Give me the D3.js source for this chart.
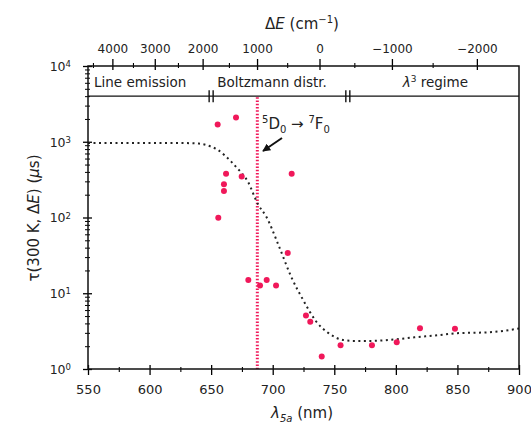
<!DOCTYPE html>
<html>
<head>
<meta charset="utf-8">
<script src="https://cdn.jsdelivr.net/npm/d3@7"></script>
<style>
  body { margin: 0; background: #fff; }
  text { font-family: "DejaVu Sans", sans-serif; fill: #222; }
</style>
</head>
<body>
<script>
// measured lifetimes (red dots)
const ptLambda = [655.3, 670.2, 662.1, 674.8, 660.4, 660.4, 655.8, 715.4, 712.2, 680.2, 689.7, 695.1, 702.7, 727.0, 730.5, 739.8, 755.1, 780.6, 800.7, 819.6, 848.0];
const ptTau = [1690, 2090, 379, 349, 274, 223, 99, 379, 34, 15, 12.7, 15, 12.7, 5.1, 4.2, 1.46, 2.06, 2.06, 2.26, 3.46, 3.39];

// model curve (black dotted)
const curveLambda = [550, 600, 630, 640, 650, 655, 661, 670, 680, 688, 695, 705, 715, 725, 735, 745, 757, 765, 780, 795, 815, 835, 850, 875, 900];
const curveTau = [965, 965, 960, 945, 860, 790, 662, 470, 294, 150, 101, 42, 16.5, 8.0, 4.3, 3.0, 2.42, 2.35, 2.35, 2.42, 2.62, 2.8, 2.97, 3.05, 3.42];

const xTicks = [550, 600, 650, 700, 750, 800, 850, 900];
const yTicks = [1, 10, 100, 1000, 10000];
const topTicks = [4000, 3000, 2000, 1000, 0, -1000, -2000];
const topLabels = ["4000", "3000", "2000", "1000", "0", "\u22121000", "\u22122000"];
const topMinor = [4500, 3500, 2500, 1500, 500, -500, -1500];
const lambda0 = 738; // nm where dE = 0
const lineLambda = 687.5; // 5D0 -> 7F0
const bandBreaks = [650, 761];
const bandLabels = ["Line emission", "Boltzmann distr.", "regime"];

let width, height, svg, xScale, yScale, toLambda;
width = 531;
height = 423;

svg = d3.select('body')
  .append('svg')
  .attr('width', width)
  .attr('height', height)
  .style('background-color', 'white');

xScale = d3.scaleLinear().domain([550, 900]).range([88, 519]);
yScale = d3.scaleLog().domain([1, 10000]).range([369, 66]);
toLambda = dE => 1e7 / (1e7 / lambda0 + dE);

const pLeft = xScale.range()[0], pRight = xScale.range()[1];
const pTop = yScale.range()[1], pBottom = yScale.range()[0];

// ---- bottom axis
const xAx = svg.append('g')
  .attr('transform', `translate(0,${pBottom})`)
  .call(d3.axisBottom(xScale).tickValues(xTicks).tickSizeInner(6).tickSizeOuter(0).tickPadding(10))
  .attr('font-family', 'DejaVu Sans').attr('font-size', 13);
xAx.selectAll('.tick line').attr('y1', -4).attr('stroke-width', 1.3);
xAx.select('.domain').remove();
const xMin = svg.append('g')
  .attr('transform', `translate(0,${pBottom})`)
  .call(d3.axisBottom(xScale).tickValues(d3.range(575, 900, 50)).tickSizeInner(3).tickSizeOuter(0).tickFormat(''));
xMin.selectAll('.tick line').attr('y1', -2).attr('stroke-width', 1.1);
xMin.select('.domain').remove();

// ---- top axis (energy gap)
const tAx = svg.append('g')
  .attr('transform', `translate(0,${pTop})`)
  .call(d3.axisTop(xScale).tickValues(topTicks.map(toLambda)).tickSizeInner(7).tickSizeOuter(0).tickPadding(6)
    .tickFormat((d, i) => topLabels[i]))
  .attr('font-family', 'DejaVu Sans').attr('font-size', 12);
tAx.selectAll('.tick line').attr('y1', 4).attr('stroke-width', 1.3);
tAx.select('.domain').remove();
const tMin = svg.append('g')
  .attr('transform', `translate(0,${pTop})`)
  .call(d3.axisTop(xScale).tickValues(topMinor.map(toLambda).filter(v => v >= 550 && v <= 900)).tickSizeInner(3).tickSizeOuter(0).tickFormat(''));
tMin.selectAll('.tick line').attr('y1', 2).attr('stroke-width', 1.1);
tMin.select('.domain').remove();

// ---- left axis (log)
const yAx = svg.append('g')
  .attr('transform', `translate(${pLeft},0)`)
  .call(d3.axisLeft(yScale).tickValues(yTicks).tickSizeInner(5).tickSizeOuter(0).tickPadding(12).tickFormat(''))
  .attr('font-family', 'DejaVu Sans').attr('font-size', 12.5);
yAx.selectAll('.tick line').attr('x1', 4).attr('stroke-width', 1.3);
yAx.select('.domain').remove();
yAx.selectAll('.tick text')
  .attr('dy', '0.35em')
  .each(function(d) {
    const t = d3.select(this);
    t.text('10');
    t.append('tspan').attr('dy', '-0.45em').attr('font-size', 8.5).text(Math.round(Math.log10(d)));
  });
let yMinorVals = [];
[1, 10, 100, 1000].forEach(p => d3.range(2, 10).forEach(m => yMinorVals.push(p * m)));
const yMin = svg.append('g')
  .attr('transform', `translate(${pLeft},0)`)
  .call(d3.axisLeft(yScale).tickValues(yMinorVals).tickSizeInner(3).tickSizeOuter(0).tickFormat(''));
yMin.selectAll('.tick line').attr('x1', 2).attr('stroke-width', 1);
yMin.select('.domain').remove();

// ---- axis titles
svg.append('text')
  .attr('x', 302).attr('y', 29)
  .attr('text-anchor', 'middle')
  .attr('font-size', 15)
  .html('\u0394<tspan font-style="italic">E</tspan> (cm<tspan dy="-6" font-size="10">\u22121</tspan><tspan dy="6">)</tspan>');

svg.append('text')
  .attr('x', 302).attr('y', 418)
  .attr('text-anchor', 'middle')
  .attr('font-size', 15)
  .html('<tspan font-style="italic">\u03bb</tspan><tspan dy="4" font-size="10" font-style="italic">5a</tspan><tspan dy="-4"> (nm)</tspan>');

svg.append('text')
  .attr('transform', 'translate(39,218) rotate(-90)')
  .attr('text-anchor', 'middle')
  .attr('font-size', 15)
  .html('\u03c4(300 K, \u0394<tspan font-style="italic">E</tspan>) (<tspan font-style="italic">\u03bc</tspan>s)');

// ---- regime band
const bandY = yScale(4000);
svg.append('line')
  .attr('x1', pLeft).attr('x2', pRight)
  .attr('y1', bandY).attr('y2', bandY)
  .attr('stroke', '#111').attr('stroke-width', 1.4);
bandBreaks.forEach(b => {
  [-2, 2].forEach(o => {
    svg.append('line')
      .attr('x1', xScale(b) + o).attr('x2', xScale(b) + o)
      .attr('y1', bandY - 6).attr('y2', bandY + 6)
      .attr('stroke', '#111').attr('stroke-width', 1.4);
  });
});
const labelY = bandY - 9;
svg.append('text').attr('x', pLeft + 6).attr('y', labelY)
  .attr('font-size', 13.5).text(bandLabels[0]);
svg.append('text').attr('x', xScale(bandBreaks[0]) + 6).attr('y', labelY)
  .attr('font-size', 13.5).text(bandLabels[1]);
svg.append('text').attr('x', (xScale(bandBreaks[1]) + pRight) / 2 + 2).attr('y', labelY)
  .attr('text-anchor', 'middle').attr('font-size', 13.5)
  .html('<tspan font-style="italic">\u03bb</tspan><tspan dy="-5" font-size="9">3</tspan><tspan dy="5"> ' + bandLabels[2] + '</tspan>');

// ---- 5D0 -> 7F0 line
svg.append('line')
  .attr('x1', xScale(lineLambda)).attr('x2', xScale(lineLambda))
  .attr('y1', bandY + 1).attr('y2', pBottom)
  .attr('stroke', '#f0185a').attr('stroke-width', 3)
  .attr('stroke-dasharray', '1.5,1.8');

// ---- model curve
const line = d3.line()
  .x((d, i) => xScale(curveLambda[i]))
  .y(d => yScale(d))
  .curve(d3.curveMonotoneX);
svg.append('path')
  .attr('d', line(curveTau))
  .attr('fill', 'none')
  .attr('stroke', '#222')
  .attr('stroke-width', 2)
  .attr('stroke-dasharray', '2,3.5');

// ---- data points
svg.selectAll('circle.dot')
  .data(ptTau)
  .enter()
  .append('circle')
  .attr('class', 'dot')
  .attr('cx', (d, i) => xScale(ptLambda[i]))
  .attr('cy', d => yScale(d))
  .attr('r', 3)
  .style('fill', '#f0185a');

// ---- annotation
svg.append('defs').append('marker')
  .attr('id', 'arr').attr('viewBox', '0 0 10 10')
  .attr('refX', 9).attr('refY', 5)
  .attr('markerWidth', 4).attr('markerHeight', 4)
  .attr('orient', 'auto')
  .append('path').attr('d', 'M0,0 L10,5 L0,10 z').attr('fill', '#111');
svg.append('line')
  .attr('x1', 282).attr('y1', 138).attr('x2', 263).attr('y2', 151)
  .attr('stroke', '#111').attr('stroke-width', 2)
  .attr('marker-end', 'url(#arr)');
svg.append('text')
  .attr('x', 262).attr('y', 129)
  .attr('font-size', 15)
  .html('<tspan dy="-6" font-size="10">5</tspan><tspan dy="6">D</tspan><tspan dy="4" font-size="10">0</tspan><tspan dy="-4"> \u2192 </tspan><tspan dy="-6" font-size="10">7</tspan><tspan dy="6">F</tspan><tspan dy="4" font-size="10">0</tspan>');

// ---- frame
svg.append('rect')
  .attr('x', pLeft).attr('y', pTop)
  .attr('width', pRight - pLeft).attr('height', pBottom - pTop)
  .attr('fill', 'none').attr('stroke', '#111').attr('stroke-width', 1.5);
</script>
</body>
</html>
